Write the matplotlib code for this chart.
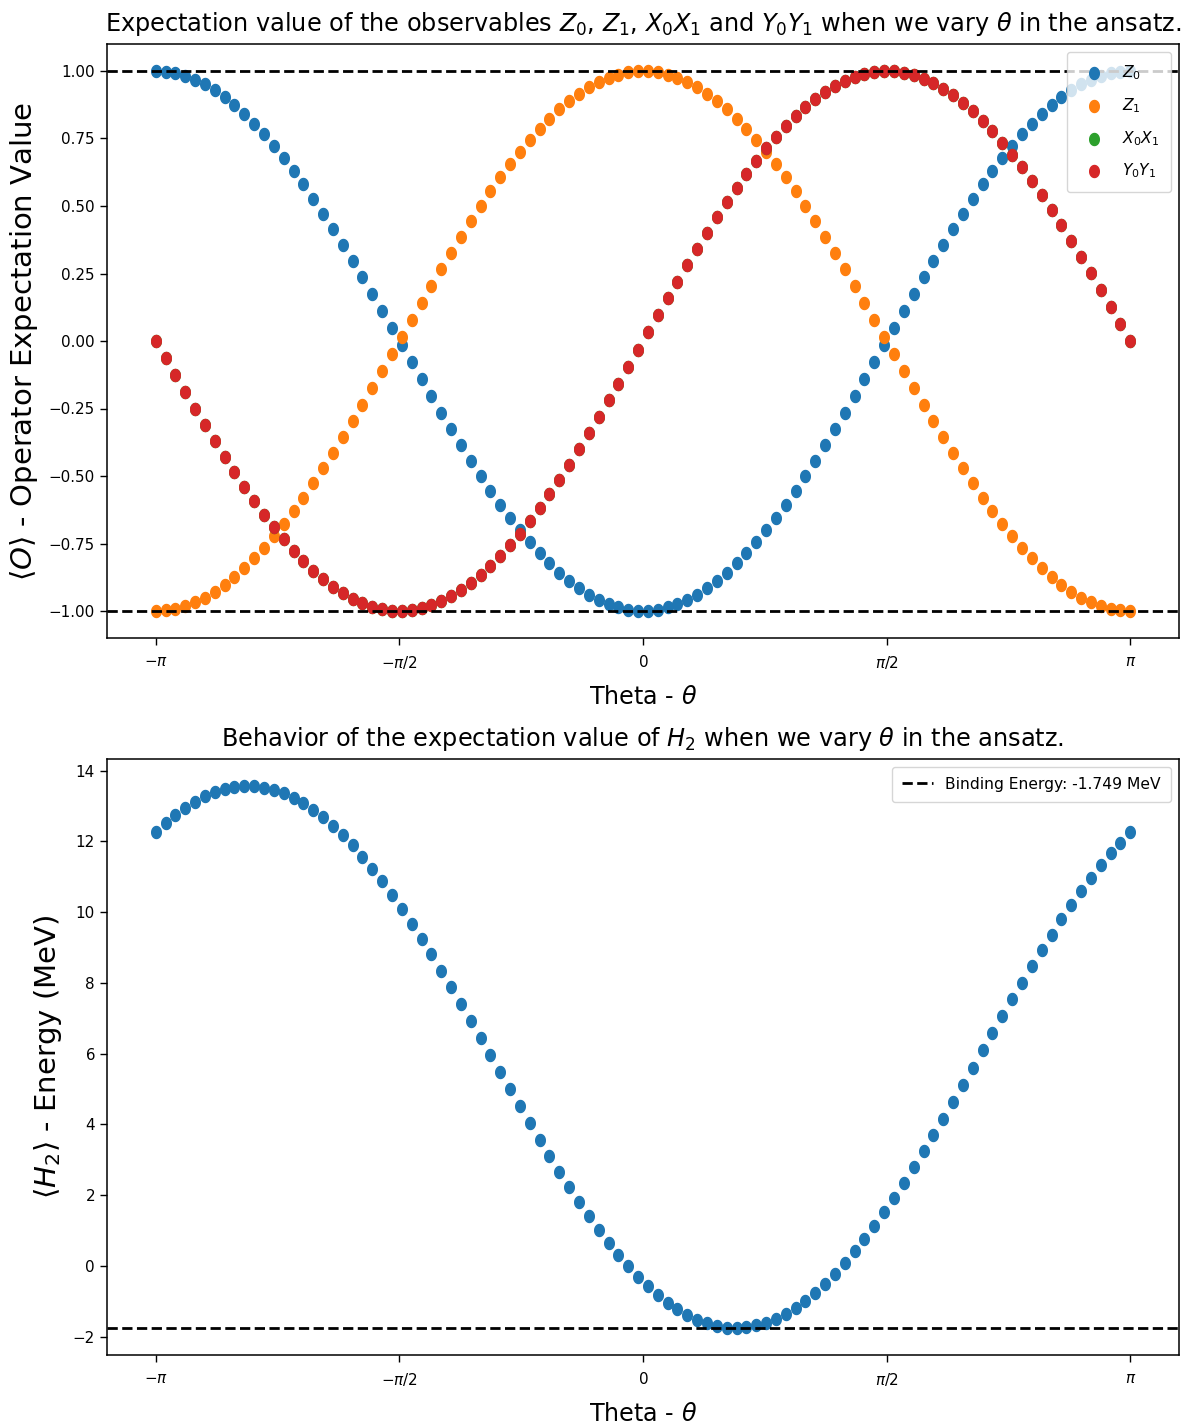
import numpy as np
import matplotlib
matplotlib.use("Agg")
import matplotlib.pyplot as plt
from matplotlib.path import Path

# ---------------- data ----------------
n_points = 100
theta = np.linspace(-np.pi, np.pi, n_points)

z0 = [1.000, 0.998, 0.992, 0.982, 0.968, 0.950, 0.928, 0.903, 0.874, 0.841,
      0.805, 0.766, 0.724, 0.679, 0.631, 0.580, 0.527, 0.472, 0.415, 0.357,
      0.297, 0.236, 0.174, 0.111, 0.048, -0.016, -0.079, -0.142, -0.205, -0.266,
      -0.327, -0.386, -0.444, -0.500, -0.554, -0.606, -0.655, -0.701, -0.745, -0.786,
      -0.824, -0.858, -0.889, -0.916, -0.940, -0.959, -0.975, -0.987, -0.995, -0.999,
      -0.999, -0.995, -0.987, -0.975, -0.959, -0.940, -0.916, -0.889, -0.858, -0.824,
      -0.786, -0.745, -0.701, -0.655, -0.606, -0.554, -0.500, -0.444, -0.386, -0.327,
      -0.266, -0.205, -0.142, -0.079, -0.016, 0.048, 0.111, 0.174, 0.236, 0.297,
      0.357, 0.415, 0.472, 0.527, 0.580, 0.631, 0.679, 0.724, 0.766, 0.805,
      0.841, 0.874, 0.903, 0.928, 0.950, 0.968, 0.982, 0.992, 0.998, 1.000]

z1 = [-1.000, -0.998, -0.992, -0.982, -0.968, -0.950, -0.928, -0.903, -0.874, -0.841,
      -0.805, -0.766, -0.724, -0.679, -0.631, -0.580, -0.527, -0.472, -0.415, -0.357,
      -0.297, -0.236, -0.174, -0.111, -0.048, 0.016, 0.079, 0.142, 0.205, 0.266,
      0.327, 0.386, 0.444, 0.500, 0.554, 0.606, 0.655, 0.701, 0.745, 0.786,
      0.824, 0.858, 0.889, 0.916, 0.940, 0.959, 0.975, 0.987, 0.995, 0.999,
      0.999, 0.995, 0.987, 0.975, 0.959, 0.940, 0.916, 0.889, 0.858, 0.824,
      0.786, 0.745, 0.701, 0.655, 0.606, 0.554, 0.500, 0.444, 0.386, 0.327,
      0.266, 0.205, 0.142, 0.079, 0.016, -0.048, -0.111, -0.174, -0.236, -0.297,
      -0.357, -0.415, -0.472, -0.527, -0.580, -0.631, -0.679, -0.724, -0.766, -0.805,
      -0.841, -0.874, -0.903, -0.928, -0.950, -0.968, -0.982, -0.992, -0.998, -1.000]

x0x1 = [0.000, -0.063, -0.127, -0.189, -0.251, -0.312, -0.372, -0.430, -0.486, -0.541,
        -0.593, -0.643, -0.690, -0.735, -0.776, -0.815, -0.850, -0.881, -0.910, -0.934,
        -0.955, -0.972, -0.985, -0.994, -0.999, -1.000, -0.997, -0.990, -0.979, -0.964,
        -0.945, -0.922, -0.896, -0.866, -0.833, -0.796, -0.756, -0.713, -0.667, -0.618,
        -0.567, -0.514, -0.458, -0.401, -0.342, -0.282, -0.220, -0.158, -0.095, -0.032,
        0.032, 0.095, 0.158, 0.220, 0.282, 0.342, 0.401, 0.458, 0.514, 0.567,
        0.618, 0.667, 0.713, 0.756, 0.796, 0.833, 0.866, 0.896, 0.922, 0.945,
        0.964, 0.979, 0.990, 0.997, 1.000, 0.999, 0.994, 0.985, 0.972, 0.955,
        0.934, 0.910, 0.881, 0.850, 0.815, 0.776, 0.735, 0.690, 0.643, 0.593,
        0.541, 0.486, 0.430, 0.372, 0.312, 0.251, 0.189, 0.127, 0.063, 0.000]

y0y1 = [0.000, -0.063, -0.127, -0.189, -0.251, -0.312, -0.372, -0.430, -0.486, -0.541,
        -0.593, -0.643, -0.690, -0.735, -0.776, -0.815, -0.850, -0.881, -0.910, -0.934,
        -0.955, -0.972, -0.985, -0.994, -0.999, -1.000, -0.997, -0.990, -0.979, -0.964,
        -0.945, -0.922, -0.896, -0.866, -0.833, -0.796, -0.756, -0.713, -0.667, -0.618,
        -0.567, -0.514, -0.458, -0.401, -0.342, -0.282, -0.220, -0.158, -0.095, -0.032,
        0.032, 0.095, 0.158, 0.220, 0.282, 0.342, 0.401, 0.458, 0.514, 0.567,
        0.618, 0.667, 0.713, 0.756, 0.796, 0.833, 0.866, 0.896, 0.922, 0.945,
        0.964, 0.979, 0.990, 0.997, 1.000, 0.999, 0.994, 0.985, 0.972, 0.955,
        0.934, 0.910, 0.881, 0.850, 0.815, 0.776, 0.735, 0.690, 0.643, 0.593,
        0.541, 0.486, 0.430, 0.372, 0.312, 0.251, 0.189, 0.127, 0.063, 0.000]

energy = [12.250, 12.509, 12.742, 12.947, 13.123, 13.271, 13.389, 13.477, 13.534, 13.561,
          13.556, 13.521, 13.456, 13.360, 13.234, 13.078, 12.894, 12.681, 12.441, 12.175,
          11.883, 11.568, 11.230, 10.870, 10.490, 10.092, 9.677, 9.247, 8.803, 8.348,
          7.883, 7.410, 6.931, 6.447, 5.962, 5.476, 4.993, 4.512, 4.037, 3.570,
          3.113, 2.666, 2.233, 1.814, 1.412, 1.028, 0.664, 0.320, -0.000, -0.297,
          -0.569, -0.815, -1.034, -1.225, -1.387, -1.520, -1.623, -1.696, -1.738, -1.749,
          -1.730, -1.679, -1.598, -1.486, -1.346, -1.176, -0.977, -0.751, -0.497, -0.218,
          0.085, 0.412, 0.761, 1.131, 1.520, 1.927, 2.350, 2.787, 3.236, 3.697,
          4.166, 4.642, 5.124, 5.608, 6.094, 6.580, 7.061, 7.539, 8.010, 8.473,
          8.925, 9.365, 9.792, 10.202, 10.596, 10.970, 11.324, 11.657, 11.965, 12.250]

binding_energy = -1.749
bounds = [1.0, -1.0]

xtick_vals = [-np.pi, -np.pi / 2, 0, np.pi / 2, np.pi]
xtick_labels = [r'$-\pi$', r'$-\pi/2$', r'$0$', r'$\pi/2$', r'$\pi$']

# ---------------- style ----------------
plt.rcParams['font.family'] = ['DejaVu Sans']
plt.rcParams['axes.linewidth'] = 1.1

tick_fs = 10.9
title_fs = 17.3
xlabel_fs = 17.2
ylabel_fs = 21
legend_fs = 11.2

# elliptical marker (the reference is stretched vertically)
t = np.linspace(0, 2 * np.pi, 60)
ell = Path(np.column_stack([0.8 * np.cos(t), np.sin(t)]), closed=True)
msize = 75

fig = plt.figure(figsize=(11.83, 14.24), dpi=100)
ax1 = fig.add_axes([107 / 1183, 1 - 638 / 1424, (1179 - 107) / 1183, (638 - 44) / 1424])
ax2 = fig.add_axes([107 / 1183, 1 - 1355 / 1424, (1179 - 107) / 1183, (1355 - 759) / 1424])

# ---------------- top panel ----------------
ax1.scatter(theta, z0, s=msize, marker=ell, color='C0', label=r'$Z_0$')
ax1.scatter(theta, z1, s=msize, marker=ell, color='C1', label=r'$Z_1$')
ax1.scatter(theta, x0x1, s=msize, marker=ell, color='C2', label=r'$X_0X_1$')
ax1.scatter(theta, y0y1, s=msize, marker=ell, color='C3', label=r'$Y_0Y_1$')
for b in bounds:
    ax1.axhline(b, color='k', ls='--', lw=2)
ax1.set_title(r'Expectation value of the observables $Z_0$, $Z_1$, $X_0X_1$ and $Y_0Y_1$ when we vary $\theta$ in the ansatz.',
              fontsize=title_fs, pad=9)
ax1.set_xlabel(r'Theta - $\theta$', fontsize=xlabel_fs, labelpad=10)
ax1.set_ylabel(r'$\langle O \rangle$ - Operator Expectation Value', fontsize=ylabel_fs, labelpad=6)
ax1.legend(loc='upper right', fontsize=legend_fs, labelspacing=0.9, borderpad=0.75)

# ---------------- bottom panel ----------------
ax2.scatter(theta, energy, s=msize, marker=ell, color='C0')
ax2.axhline(binding_energy, color='k', ls='--', lw=2,
            label='Binding Energy: -1.749 MeV')
ax2.set_title(r'Behavior of the expectation value of $H_2$ when we vary $\theta$ in the ansatz.',
              fontsize=title_fs, pad=9)
ax2.set_xlabel(r'Theta - $\theta$', fontsize=xlabel_fs, labelpad=10)
ax2.set_ylabel(r'$\langle H_2 \rangle$ - Energy (MeV)', fontsize=ylabel_fs, labelpad=6)
ax2.legend(loc='upper right', fontsize=legend_fs, borderpad=0.65)

for ax in (ax1, ax2):
    ax.set_xticks(xtick_vals)
    ax.set_xticklabels(xtick_labels)
    ax.tick_params(labelsize=tick_fs, length=5, width=1.0)
    ax.tick_params(axis='x', pad=6.5)
    ax.tick_params(axis='y', pad=3.6)

ax1.set_yticks([-1.0, -0.75, -0.5, -0.25, 0.0, 0.25, 0.5, 0.75, 1.0])

fig.savefig('out.png', dpi=100)
